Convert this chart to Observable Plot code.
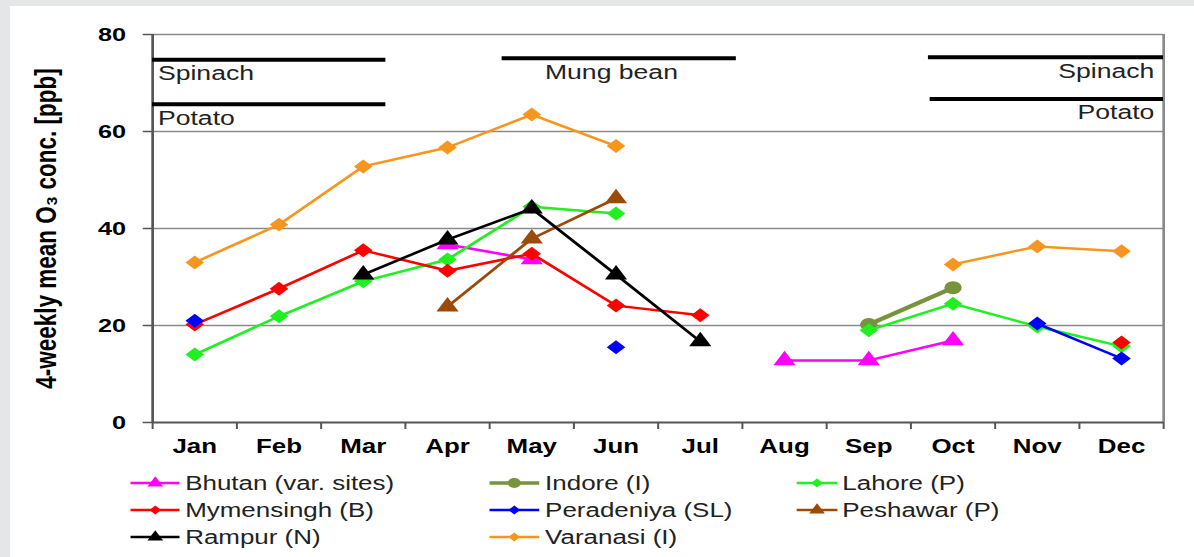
<!DOCTYPE html>
<html><head><meta charset="utf-8">
<script src="https://cdn.jsdelivr.net/npm/d3@7"></script>
<script src="https://cdn.jsdelivr.net/npm/@observablehq/plot@0.6"></script>
<style>
html,body{margin:0;padding:0;background:#e4e6e7;width:1194px;height:557px;overflow:hidden;font-family:"Liberation Sans",Arial,sans-serif;}
#panel{position:absolute;left:10px;top:6px;right:0;bottom:0;background:#fff;}
#chart{position:absolute;left:0;top:0;width:898px;height:557px;transform:scaleX(1.3296);transform-origin:0 0;}
#chart svg.plot{position:absolute;left:0;top:0;}
.leg{position:absolute;height:24px;display:flex;align-items:center;font-size:19.5px;color:#222;white-space:nowrap;}
.leg svg{display:block;margin-right:4px;}
</style>
</head><body>
<div id="panel"></div>
<div id="chart"></div>
<script>
const months = ["Jan","Feb","Mar","Apr","May","Jun","Jul","Aug","Sep","Oct","Nov","Dec"];
const yTicks = [0, 20, 40, 60, 80];

const seriesNames = ["Bhutan (var. sites)","Indore (I)","Lahore (P)","Mymensingh (B)","Peradeniya (SL)","Peshawar (P)","Rampur (N)","Varanasi (I)"];
const bhutan     = [null,null,null,36.7,33.6,null,null,12.8,12.8,16.9,null,null];
const indore     = [null,null,null,null,null,null,null,null,20.2,27.8,null,null];
const lahore     = [14.0,21.9,29.1,33.6,44.5,43.1,null,null,19.0,24.5,19.8,15.7];
const mymensingh = [20.2,27.6,35.5,31.3,34.8,24.1,22.1,null,null,null,null,16.5];
const peradeniya = [21.0,null,null,null,null,15.5,null,null,null,null,20.4,13.2];
const peshawar   = [null,null,null,23.9,37.9,46.2,null,null,null,null,null,null];
const rampur     = [null,null,30.5,37.7,44.1,30.5,16.7,null,null,null,null,null];
const varanasi   = [33.0,40.8,52.8,56.7,63.5,57.0,null,null,null,32.6,36.3,35.3];
const seriesValues = [bhutan, indore, lahore, mymensingh, peradeniya, peshawar, rampur, varanasi];

// crop growing periods (month units, 0 = start of Jan) and level in ppb
const cropNames = ["Spinach","Potato","Mung bean","Spinach","Potato"];
const cropStart = [0, 0, 4.15, 9.21, 9.23];
const cropEnd   = [2.77, 2.77, 6.93, 12, 12];
const cropLevel = [74.8, 65.6, 75.1, 75.3, 66.7];

// styles
const styles = {
  "Bhutan (var. sites)": {color:"#ff00ff", symbol:"triangle", r:6.2, w:2.5},
  "Indore (I)":          {color:"#77933c", symbol:"circle", r:6.5, w:4},
  "Lahore (P)":          {color:"#1ff01f", symbol:"diamond2", r:6.3, w:2.5},
  "Mymensingh (B)":      {color:"#ff0000", symbol:"diamond2", r:6.3, w:2.5},
  "Peradeniya (SL)":     {color:"#0000ff", symbol:"diamond2", r:6.3, w:2.5},
  "Peshawar (P)":        {color:"#9c4a0a", symbol:"triangle", r:6.2, w:2.5},
  "Rampur (N)":          {color:"#000000", symbol:"triangle", r:6.2, w:2.5},
  "Varanasi (I)":        {color:"#f7961e", symbol:"diamond2", r:6.3, w:2.5}
};

const crops = cropNames.map((n,i)=>({name:n, x1:cropStart[i], x2:cropEnd[i], y:cropLevel[i], mid:(cropStart[i]+cropEnd[i])/2}));
const cropLeft = crops.filter(d=>d.x1===0);
const cropRight = crops.filter(d=>d.x2===12);
const cropMid = crops.filter(d=>d.x1!==0 && d.x2!==12);

const seriesMarks = [];
seriesNames.forEach((name, si) => {
  const s = styles[name];
  const data = seriesValues[si].map((v,i)=>({m:i+0.5, v:v}));
  seriesMarks.push(Plot.line(data, {x:"m", y:"v", stroke:s.color, strokeWidth:s.w}));
  seriesMarks.push(Plot.dot(data.filter(d=>d.v!=null), {x:"m", y:"v", fill:s.color, symbol:s.symbol, r:s.r, stroke:"none"}));
});

const chart = Plot.plot({
  width: 898,
  height: 460,
  marginLeft: 114.3,
  marginRight: 23.3,
  marginTop: 34,
  marginBottom: 38,
  style: {fontFamily:'"Liberation Sans", Arial, sans-serif', background:"transparent", color:"#000"},
  x: {domain:[0,12]},
  y: {domain:[0,80]},
  marks: [
    Plot.ruleY([20,40,60,80], {stroke:"#8a8a8a", strokeWidth:1.6}),
    Plot.ruleX([12], {y1:0, y2:80, stroke:"#8a8a8a", strokeWidth:2}),
    Plot.axisY({ticks:yTicks, tickSize:7, tickPadding:13, fontSize:19, fontWeight:"bold", stroke:"#555", strokeWidth:1.5,
      label:"4-weekly mean O₃ conc. [ppb]", labelAnchor:"center", labelArrow:"none", labelOffset:89}),
    Plot.axisX({ticks:d3.range(0,13), tickFormat:()=>"", tickSize:7, stroke:"#555", strokeWidth:1.5, label:null}),
    Plot.axisX({ticks:d3.range(0.5,12,1), tickFormat:d=>months[Math.floor(d)], tickSize:0, tickPadding:17, fontSize:19.5, fontWeight:"bold", label:null}),
    Plot.ruleX([0], {y1:0, y2:80, stroke:"#555", strokeWidth:2}),
    Plot.ruleY([0], {stroke:"#555", strokeWidth:2}),
    Plot.ruleY(crops, {y:"y", x1:"x1", x2:"x2", stroke:"#000", strokeWidth:4}),
    Plot.text(cropLeft, {x:"x1", y:"y", text:"name", textAnchor:"start", dx:4, dy:14, lineAnchor:"middle", fontSize:20, fill:"#222"}),
    Plot.text(cropMid, {x:"mid", y:"y", text:"name", textAnchor:"middle", dx:-6, dy:14, lineAnchor:"middle", fontSize:20, fill:"#222"}),
    Plot.text(cropRight, {x:"x2", y:"y", text:"name", textAnchor:"end", dx:-7, dy:14, lineAnchor:"middle", fontSize:20, fill:"#222"}),
    ...seriesMarks
  ]
});
d3.select(chart).select('g[aria-label="y-axis label"]').attr("font-size", 22.5).attr("font-weight","bold");
document.getElementById("chart").appendChild(chart);

// legend
const colSw = [97.7, 368.4, 598.5];
const colSwW = [37.6, 37.6, 31];
const rowY = [483, 510, 537];
const chartDiv = d3.select("#chart");
seriesNames.forEach((name, i) => {
  const s = styles[name];
  const col = i % 3, row = Math.floor(i / 3);
  const div = chartDiv.append("div").attr("class","leg")
    .style("left", colSw[col] + "px").style("top", (rowY[row] - 12) + "px");
  const w = colSwW[col];
  const svg = div.append("svg").attr("width", w).attr("height", 24);
  svg.append("line").attr("x1",0).attr("x2",w).attr("y1",12).attr("y2",12)
    .attr("stroke", s.color).attr("stroke-width", s.w === 4 ? 3.5 : 2.5);
  let sym;
  if (s.symbol === "triangle") sym = d3.symbol(d3.symbolTriangle, 60)();
  else if (s.symbol === "circle") sym = d3.symbol(d3.symbolCircle, 75)();
  else sym = d3.symbol(d3.symbolDiamond2, 50)();
  svg.append("path").attr("d", sym).attr("transform", `translate(${w/2},12)`).attr("fill", s.color);
  div.append("span").text(name);
});
</script>
</body></html>
